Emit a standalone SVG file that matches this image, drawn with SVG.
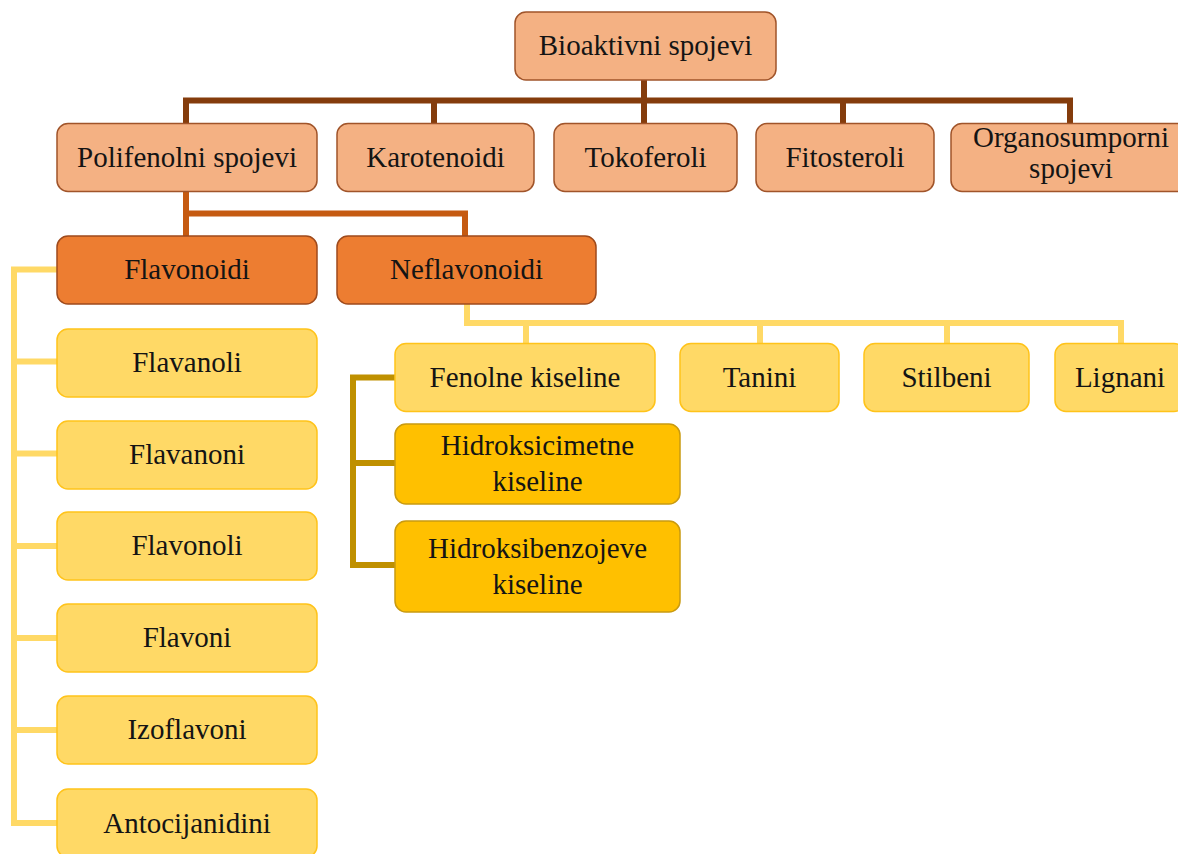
<svg xmlns="http://www.w3.org/2000/svg" width="1178" height="854" viewBox="0 0 1178 854">
<style>
  text { font-family: "Liberation Serif", "Times New Roman", serif; font-size: 29px; fill: #141414; text-anchor: middle; }
  .peach { fill: #F4B183; stroke: #A0542A; stroke-width: 1.5; }
  .orange { fill: #ED7D31; stroke: #9E4A1C; stroke-width: 1.5; }
  .yellow { fill: #FFD966; stroke: #FFC31A; stroke-width: 1.5; }
  .gold { fill: #FFC000; stroke: #C99A10; stroke-width: 1.5; }
  .c { fill: none; stroke-width: 6; stroke-linejoin: miter; stroke-linecap: butt; }
  .c-brown { stroke: #843C0C; }
  .c-orange { stroke: #C55A11; }
  .c-yellow { stroke: #FFD966; }
  .c-gold { stroke: #BF9000; }
</style>
<rect width="1178" height="854" fill="#FFFFFF"/>
<g id="connectors">
  <path class="c c-brown" d="M186,124 V100.5 H1070 V124"/>
  <path class="c c-brown" d="M644,80 V124"/>
  <path class="c c-brown" d="M434,100 V124"/>
  <path class="c c-brown" d="M843,100 V124"/>
  <path class="c c-orange" d="M186,191 V237"/>
  <path class="c c-orange" d="M186,213.5 H465 V237"/>
  <path class="c c-yellow" d="M58,269.5 H14 V823 H58"/>
  <path class="c c-yellow" d="M14,361.5 H58"/>
  <path class="c c-yellow" d="M14,453.5 H58"/>
  <path class="c c-yellow" d="M14,546 H58"/>
  <path class="c c-yellow" d="M14,638 H58"/>
  <path class="c c-yellow" d="M14,730 H58"/>
  <path class="c c-yellow" d="M467,304 V323 H1121 V344"/>
  <path class="c c-yellow" d="M526,323 V344"/>
  <path class="c c-yellow" d="M760,323 V344"/>
  <path class="c c-yellow" d="M947,323 V344"/>
  <path class="c c-gold" d="M396,377.5 H353 V565 H396"/>
  <path class="c c-gold" d="M353,463 H396"/>
</g>
<g id="n-bioaktivni"><rect class="peach" x="515" y="12" width="261" height="68" rx="11"/><text x="645.5" y="55">Bioaktivni spojevi</text></g>
<g id="n-polifenolni"><rect class="peach" x="57" y="123.5" width="260" height="68" rx="11"/><text x="187" y="166.5">Polifenolni spojevi</text></g>
<g id="n-karotenoidi"><rect class="peach" x="337" y="123.5" width="197" height="68" rx="11"/><text x="435.5" y="166.5">Karotenoidi</text></g>
<g id="n-tokoferoli"><rect class="peach" x="554" y="123.5" width="183" height="68" rx="11"/><text x="645.5" y="166.5">Tokoferoli</text></g>
<g id="n-fitosteroli"><rect class="peach" x="756" y="123.5" width="178" height="68" rx="11"/><text x="845" y="166.5">Fitosteroli</text></g>
<g id="n-organosumporni"><rect class="peach" x="951" y="123.5" width="240" height="68" rx="11"/><text x="1071" y="147">Organosumporni</text><text x="1071" y="178">spojevi</text></g>
<g id="n-flavonoidi"><rect class="orange" x="57" y="236" width="260" height="68" rx="11"/><text x="187" y="279">Flavonoidi</text></g>
<g id="n-neflavonoidi"><rect class="orange" x="337" y="236" width="259" height="68" rx="11"/><text x="466.5" y="279">Neflavonoidi</text></g>
<g id="n-flavanoli"><rect class="yellow" x="57" y="329" width="260" height="68" rx="11"/><text x="187" y="372">Flavanoli</text></g>
<g id="n-flavanoni"><rect class="yellow" x="57" y="421" width="260" height="68" rx="11"/><text x="187" y="464">Flavanoni</text></g>
<g id="n-flavonoli"><rect class="yellow" x="57" y="512" width="260" height="68" rx="11"/><text x="187" y="555">Flavonoli</text></g>
<g id="n-flavoni"><rect class="yellow" x="57" y="604" width="260" height="68" rx="11"/><text x="187" y="647">Flavoni</text></g>
<g id="n-izoflavoni"><rect class="yellow" x="57" y="696" width="260" height="68" rx="11"/><text x="187" y="739">Izoflavoni</text></g>
<g id="n-antocijanidini"><rect class="yellow" x="57" y="789" width="260" height="68" rx="11"/><text x="187" y="833">Antocijanidini</text></g>
<g id="n-fenolne"><rect class="yellow" x="395" y="343.5" width="260" height="68" rx="11"/><text x="525" y="387">Fenolne kiseline</text></g>
<g id="n-tanini"><rect class="yellow" x="680" y="343.5" width="159" height="68" rx="11"/><text x="759.5" y="387">Tanini</text></g>
<g id="n-stilbeni"><rect class="yellow" x="864" y="343.5" width="165" height="68" rx="11"/><text x="946.5" y="387">Stilbeni</text></g>
<g id="n-lignani"><rect class="yellow" x="1055" y="343.5" width="130" height="68" rx="11"/><text x="1120" y="387">Lignani</text></g>
<g id="n-hidroksicimetne"><rect class="gold" x="395" y="424" width="285" height="80" rx="11"/><text x="537.5" y="455">Hidroksicimetne</text><text x="537.5" y="491">kiseline</text></g>
<g id="n-hidroksibenzojeve"><rect class="gold" x="395" y="521" width="285" height="91" rx="11"/><text x="537.5" y="558">Hidroksibenzojeve</text><text x="537.5" y="594">kiseline</text></g>
</svg>
